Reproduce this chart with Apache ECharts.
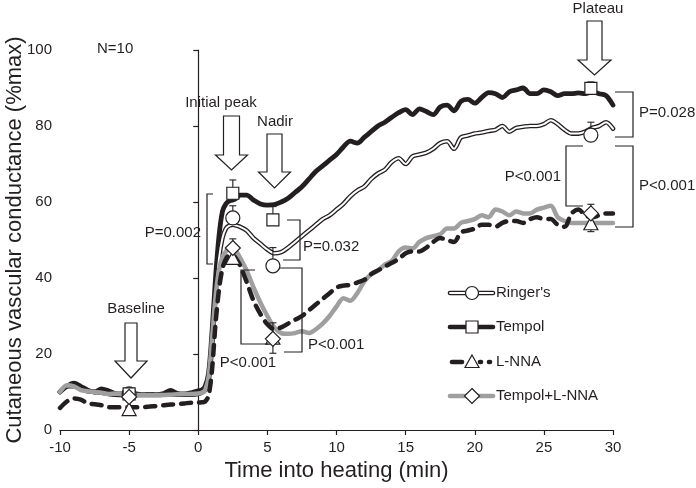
<!DOCTYPE html>
<html><head><meta charset="utf-8">
<script src="https://cdn.jsdelivr.net/npm/echarts@6/dist/echarts.min.js"></script>
<style>html,body{margin:0;padding:0;background:#fff}#c{width:696px;height:488px}</style>
</head><body><div id="c"></div>
<script>
// ---- data ----
const time = [-10,-9.5,-9,-8.5,-8,-7.5,-7,-6.5,-6,-5.5,-5,-4.5,-4,-3.5,-3,-2.5,-2,-1.5,-1,-0.5,0,
  0.25,0.5,0.75,1,1.25,1.5,1.75,2,2.25,2.5,2.75,3,
  3.5,4,4.5,5,5.5,6,6.5,7,7.5,8,8.5,9,9.5,10,10.5,11,11.5,12,12.5,13,13.5,14,14.5,15,15.5,16,16.5,17,17.5,18,18.5,19,19.5,20,20.5,21,21.5,22,22.5,23,23.5,24,24.5,25,25.5,26,26.5,27,27.5,28,28.5,29,29.5,30];

const ringers = [10,11.5,11.5,10.8,10.2,10,9.8,9.5,9.3,9.2,9.2,9.2,9.2,9.2,9.2,9.3,9.3,9.3,9.3,9.3,9.5,
  9.8,10.5,13,22,35,45,50.5,53,53.8,54,53.8,53.5,
  52.5,50.5,49,47.5,46.5,46.8,48,49.5,51,52.5,
  54,55.5,56.5,58,59.5,61.5,63,64,66,67.5,
  68.5,70.5,71.5,70,72,72.5,73,74,75.5,76,
  74,77,77.5,78,78.3,78.7,79,80,78.5,79.5,
  79.8,80,80,80.5,81.5,80.5,79,78,78,78.5,
  79.5,80,81,79.3];

const tempol = [10,11.5,12.3,11.5,10.5,10,10.8,10.3,9.6,9.5,9.5,9.5,9.3,9.4,9.3,9.6,10.4,9.6,9.5,9.8,10.3,
  10.5,11.5,15,26,40,51,57.5,59.5,60.3,60.5,61,61.8,
  61.8,60.5,59.5,59.2,59.3,60,61,62.5,64,66,
  68,69.5,71,72.5,74.5,76,75.5,77,78.5,80,
  81,82.3,83.5,84.3,83,84.5,83.8,83,85,85.5,
  84,86.5,87,86,87.5,88.8,88.5,87.5,89,89.5,
  90,88.5,88.5,89.5,89,88,88.5,88.5,88.7,88.5,
  89,88.5,88,85.5];

const lnna = [5.8,7.5,8.3,8,7,6.8,6.5,6,6,6,6,6,6,6.2,6.3,6.5,6.7,6.8,7,7.2,7.2,
  7.3,7.5,9,16,28,37,42.5,45,46,46,45,43.5,
  39,34,30.5,27.8,26.5,27,28,29,30,31.5,
  33,34.5,36,37.5,38,38.2,38.8,39.5,41,42,
  43,44,45,46.5,47,47,48,49.5,50.5,50,
  49.5,52,52.5,53,54,54,53.5,54.5,55,55,
  54.5,55.5,56,55.5,55.5,54,53.5,57,58,56.5,
  56,56.5,57,57];

const tempolLnna = [10,11.8,11.5,10.5,10.2,10,9.8,9.5,9.6,9.4,9.2,9.2,9.2,9.2,9.2,9.2,9.3,9.4,9.5,9.5,9.6,
  9.8,10.5,14,24,35,42,45.5,47,47.8,48,47,45.5,
  42,37.5,33.5,30,27,25.5,25.3,25.5,26,25.5,
  26.5,28,30,32.5,34.7,34,36,39,41,42,
  43.5,44.5,47,48,47.8,49.5,50.5,51,51.5,53,
  53,54.5,55,55.5,56.5,56,58,57.5,56.5,57.5,
  57,57,58,58.5,59,56,55,54.5,54.5,54.5,
  54.5,54.5,54.5,54.5];

// symbols with error bars at the four analysis times
const markTime = [-5, 2.5, 5.4, 28.4];
const ringersMark = [9.5, 55.8, 43.2, 77.6];
const ringersErr  = [null, 59.0, 48.0, 81.0];
const tempolMark  = [9.5, 62.3, 55.3, 89.9];
const tempolErr   = [null, 65.8, 58.8, 91.6];
const lnnaMark    = [5.5, 45.3, 24.3, 54.4];
const lnnaErr     = [null, null, 20.2, 52.2];
const tlMark      = [8.7, 47.9, 24.0, 57.0];
const tlErr       = [null, 50.3, 28.2, 59.4];

const xTicks = {min: -10, max: 30, interval: 5};
const yTicks = {min: 0, max: 100, interval: 20};

// ---- rendering ----
const FONT = "'Liberation Sans', Arial, sans-serif";
const INK = '#231f20';
const GRAY = '#9f9f9f';

const pairs = v => time.map((t, i) => [t, v[i]]);
const marks = v => markTime.map((t, i) => [t, v[i]]);
const errs = (v, e) => markTime.map((t, i) => e[i] == null ? null : [t, v[i], e[i]]).filter(Boolean);

function errRender(params, api) {
  const p0 = api.coord([api.value(0), api.value(1)]);
  const p1 = api.coord([api.value(0), api.value(2)]);
  const st = {stroke: INK, lineWidth: 1.1};
  return {type: 'group', children: [
    {type: 'line', shape: {x1: p0[0], y1: p0[1], x2: p1[0], y2: p1[1]}, style: st},
    {type: 'line', shape: {x1: p1[0] - 3.5, y1: p1[1], x2: p1[0] + 3.5, y2: p1[1]}, style: st}
  ]};
}

const lineBase = {type: 'line', showSymbol: false, smooth: 0.3, silent: true, animation: false};
const markBase = {type: 'scatter', animation: false, z: 8,
  itemStyle: {color: '#fff', borderColor: INK, borderWidth: 1.2, opacity: 1}};
const errBase = {type: 'custom', renderItem: errRender, animation: false, z: 7};

const txt = (x, y, s, align) => ({type: 'text', x, y, z: 20,
  style: {text: s, font: '15px ' + FONT, fill: INK, align: align || 'left', verticalAlign: 'middle'}});
const arrow = (cx, y0, sw, y1, hw, y2) => ({type: 'polygon', z: 20,
  shape: {points: [[cx - sw, y0], [cx + sw, y0], [cx + sw, y1], [cx + hw, y1], [cx, y2], [cx - hw, y1], [cx - sw, y1]]},
  style: {fill: '#fff', stroke: INK, lineWidth: 1.2}});
const bracket = pts => ({type: 'polyline', z: 20, shape: {points: pts},
  style: {fill: null, stroke: INK, lineWidth: 1.2}});

const graphics = [
  txt(97, 49, 'N=10'),
  txt(136, 309, 'Baseline', 'center'), arrow(131, 323, 6, 361, 16, 378),
  txt(221, 103, 'Initial peak', 'center'), arrow(231.5, 116, 8, 155, 16, 170),
  txt(275, 122, 'Nadir', 'center'), arrow(274.5, 134, 7.5, 172, 16, 188),
  txt(598, 9, 'Plateau', 'center'), arrow(594.5, 21, 7.5, 60, 16.5, 75),
  bracket([[213, 194], [207, 194], [207, 264], [213, 264]]), txt(201, 233, 'P=0.002', 'right'),
  bracket([[287, 220], [300, 220], [300, 260], [283, 260]]), txt(303, 247, 'P=0.032'),
  bracket([[255, 270], [241, 270], [241, 344], [268, 344]]), txt(248, 363, 'P<0.001', 'center'),
  bracket([[280, 268], [302, 268], [302, 352], [284, 352]]), txt(308, 345, 'P<0.001'),
  bracket([[615, 92], [633, 92], [633, 137], [615, 137]]), txt(639, 113, 'P=0.028'),
  bracket([[615, 146], [633, 146], [633, 227], [615, 227]]), txt(639, 186, 'P<0.001'),
  bracket([[583, 146], [566, 146], [566, 206], [583, 206]]), txt(561, 177, 'P<0.001', 'right')
];

// legend
const lgX0 = 450, lgX1 = 493, lgMid = 472, lgText = 496;
const lgY = [293, 327, 362, 396];
const seg = (x1, x2, y, color, w) => ({type: 'line', z: 20, shape: {x1, y1: y, x2, y2: y},
  style: {stroke: color, lineWidth: w, lineCap: 'round'}});
// Ringer's
graphics.push(seg(lgX0, lgX1, lgY[0], INK, 4.6), seg(lgX0, lgX1, lgY[0], '#fff', 2),
  {type: 'circle', z: 21, shape: {cx: lgMid, cy: lgY[0], r: 6.5}, style: {fill: '#fff', stroke: INK, lineWidth: 1.2}},
  txt(lgText, lgY[0], "Ringer's"));
// Tempol
graphics.push(seg(lgX0, lgX1, lgY[1], INK, 4.6),
  {type: 'rect', z: 21, shape: {x: lgMid - 6, y: lgY[1] - 6, width: 12, height: 12}, style: {fill: '#fff', stroke: INK, lineWidth: 1.2}},
  txt(lgText, lgY[1], 'Tempol'));
// L-NNA
graphics.push(seg(lgX0 + 2, 462, lgY[2], INK, 4.6), seg(480, 481, lgY[2], INK, 4.6), seg(489, 490, lgY[2], INK, 4.6),
  {type: 'polygon', z: 21, shape: {points: [[lgMid, lgY[2] - 7], [lgMid + 7, lgY[2] + 5.5], [lgMid - 7, lgY[2] + 5.5]]},
    style: {fill: '#fff', stroke: INK, lineWidth: 1.2}},
  txt(lgText, lgY[2], 'L-NNA'));
// Tempol+L-NNA
graphics.push(seg(lgX0, lgX1, lgY[3], GRAY, 4.6),
  {type: 'polygon', z: 21, shape: {points: [[lgMid, lgY[3] - 7.5], [lgMid + 7.5, lgY[3]], [lgMid, lgY[3] + 7.5], [lgMid - 7.5, lgY[3]]]},
    style: {fill: '#fff', stroke: INK, lineWidth: 1.2}},
  txt(lgText, lgY[3], 'Tempol+L-NNA'));

const axisCommon = {
  axisLine: {show: true, lineStyle: {color: INK, width: 1.2}},
  axisTick: {show: true, inside: false, length: 5, lineStyle: {color: INK, width: 1.2}},
  splitLine: {show: false},
  nameLocation: 'middle',
  nameTextStyle: {color: INK, fontFamily: FONT, fontSize: 22}
};

const chart = echarts.init(document.getElementById('c'), null, {renderer: 'canvas'});
chart.setOption({
  backgroundColor: '#fff',
  animation: false,
  grid: {left: 60, right: 83, top: 50, bottom: 58, containLabel: false, outerBoundsMode: 'none'},
  xAxis: Object.assign({}, axisCommon, {type: 'value', min: xTicks.min, max: xTicks.max, interval: xTicks.interval,
    axisLabel: {color: INK, fontFamily: FONT, fontSize: 15, margin: 10},
    name: 'Time into heating (min)', nameGap: 27}),
  yAxis: Object.assign({}, axisCommon, {type: 'value', min: yTicks.min, max: yTicks.max, interval: yTicks.interval,
    axisLabel: {color: INK, fontFamily: FONT, fontSize: 15, margin: 8},
    name: 'Cutaneous vascular conductance (%max)', nameGap: 34, nameMoveOverlap: false}),
  series: [
    Object.assign({}, lineBase, {name: 'Tempol', data: pairs(tempol), z: 2,
      lineStyle: {color: INK, width: 4.8, cap: 'round', join: 'round'}}),
    Object.assign({}, lineBase, {name: "Ringer's", data: pairs(ringers), z: 3,
      lineStyle: {color: INK, width: 4.6, cap: 'round', join: 'round'}}),
    Object.assign({}, lineBase, {name: "Ringer's inner", data: pairs(ringers), z: 3,
      lineStyle: {color: '#fff', width: 2, cap: 'round', join: 'round'}}),
    Object.assign({}, lineBase, {name: 'Tempol+L-NNA', data: pairs(tempolLnna), z: 4,
      lineStyle: {color: GRAY, width: 4.5, cap: 'round', join: 'round'}}),
    Object.assign({}, lineBase, {name: 'L-NNA', data: pairs(lnna), z: 5,
      lineStyle: {color: INK, width: 4.5, type: [10, 8], cap: 'round', join: 'round'}}),

    Object.assign({}, errBase, {data: errs(ringersMark, ringersErr)}),
    Object.assign({}, errBase, {data: errs(tempolMark, tempolErr)}),
    Object.assign({}, errBase, {data: errs(lnnaMark, lnnaErr)}),
    Object.assign({}, errBase, {data: errs(tlMark, tlErr)}),

    Object.assign({}, markBase, {data: marks(ringersMark), symbol: 'circle', symbolSize: 14}),
    Object.assign({}, markBase, {data: marks(tempolMark), symbol: 'rect', symbolSize: 12}),
    Object.assign({}, markBase, {data: marks(lnnaMark), symbol: 'triangle', symbolSize: [14, 13]}),
    Object.assign({}, markBase, {data: marks(tlMark), symbol: 'diamond', symbolSize: [15, 15]})
  ],
  graphic: graphics
});
</script>
</body></html>
